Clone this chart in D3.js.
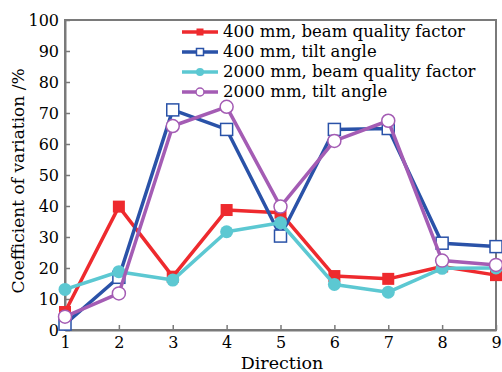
<!DOCTYPE html>
<html>
<head>
<meta charset="utf-8">
<script src="https://cdn.jsdelivr.net/npm/d3@7/dist/d3.min.js"></script>
<style>
  html, body { margin: 0; padding: 0; background: #fff; }
  svg text { font-family: "DejaVu Serif", "Liberation Serif", serif; fill: #000; }
</style>
</head>
<body>
<div id="chart"></div>
<script>
// Coefficient of variation by direction
const directions = [1, 2, 3, 4, 5, 6, 7, 8, 9];
const bq400 = [5.8, 39.8, 17.2, 38.7, 37.8, 17.4, 16.5, 20.5, 17.7];
const tilt400 = [1.9, 17, 71, 64.7, 30.3, 64.7, 65, 28, 26.9];
const bq2000 = [13.1, 18.8, 16.1, 31.7, 34.6, 14.7, 12.2, 19.9, 20];
const tilt2000 = [4.3, 11.8, 65.8, 72, 39.8, 61, 67.5, 22.4, 21];
const yTicks = [0, 10, 20, 30, 40, 50, 60, 70, 80, 90, 100];

const series = [
  { name: '400 mm, beam quality factor', values: bq400, color: '#ee2a2e', shape: 'square', filled: true },
  { name: '400 mm, tilt angle', values: tilt400, color: '#2a52a8', shape: 'square', filled: false },
  { name: '2000 mm, beam quality factor', values: bq2000, color: '#5cc8d2', shape: 'circle', filled: true },
  { name: '2000 mm, tilt angle', values: tilt2000, color: '#a45cb4', shape: 'circle', filled: false }
];

const width = 502, height = 372;
const x = d3.scaleLinear().domain([1, 9]).range([65, 496]);
const y = d3.scaleLinear().domain([0, 100]).range([330, 20]);

const svg = d3.select('#chart').append('svg')
  .attr('width', width)
  .attr('height', height);

// frame
svg.append('rect')
  .attr('x', x(1)).attr('y', y(100))
  .attr('width', x(9) - x(1)).attr('height', y(0) - y(100))
  .attr('fill', 'none')
  .attr('stroke', '#7a7a7a')
  .attr('stroke-width', 2);

// axes with inward ticks
const xAxis = d3.axisBottom(x).tickValues(directions).tickSizeInner(-5).tickSizeOuter(0).tickPadding(7);
const yAxis = d3.axisLeft(y).tickValues(yTicks).tickSizeInner(-5).tickSizeOuter(0).tickPadding(6);

const gx = svg.append('g').attr('transform', `translate(0,${y(0)})`).call(xAxis);
const gy = svg.append('g').attr('transform', `translate(${x(1)},0)`).call(yAxis);
[gx, gy].forEach(g => {
  g.select('.domain').attr('stroke', '#7a7a7a').attr('stroke-width', 2);
  g.selectAll('.tick line').attr('stroke', '#7a7a7a').attr('stroke-width', 1.5);
  g.selectAll('.tick text')
    .attr('font-family', '"DejaVu Serif", serif')
    .attr('font-size', 16)
    .attr('fill', '#000');
});

// axis titles
svg.append('text')
  .attr('x', 282).attr('y', 369)
  .attr('text-anchor', 'middle')
  .attr('font-size', 17.5)
  .text('Direction');

svg.append('text')
  .attr('transform', `translate(24,${(y(0) + y(100)) / 2 + 6}) rotate(-90)`)
  .attr('text-anchor', 'middle')
  .attr('font-size', 17)
  .text('Coefficient of variation /%');

// lines and markers
const line = d3.line().x((d, i) => x(directions[i])).y(d => y(d));

function drawMarker(g, s, cx, cy, size) {
  if (s.shape === 'square') {
    g.append('rect')
      .attr('x', cx - size / 2).attr('y', cy - size / 2)
      .attr('width', size).attr('height', size)
      .attr('fill', s.filled ? s.color : '#fff')
      .attr('stroke', s.color)
      .attr('stroke-width', s.filled ? 0 : 1.5);
  } else {
    g.append('circle')
      .attr('cx', cx).attr('cy', cy)
      .attr('r', size / 2)
      .attr('fill', s.filled ? s.color : '#fff')
      .attr('stroke', s.color)
      .attr('stroke-width', s.filled ? 0 : 1.5);
  }
}

series.forEach(s => {
  const g = svg.append('g');
  g.append('path')
    .attr('d', line(s.values))
    .attr('fill', 'none')
    .attr('stroke', s.color)
    .attr('stroke-width', 3.5)
    .attr('stroke-linejoin', 'round');
  s.values.forEach((v, i) => {
    drawMarker(g, s, x(directions[i]), y(v), s.shape === 'square' ? 12 : 13);
  });
});

// legend
const legend = svg.append('g');
series.forEach((s, i) => {
  const ly = 32 + i * 20;
  legend.append('line')
    .attr('x1', 182).attr('x2', 218)
    .attr('y1', ly).attr('y2', ly)
    .attr('stroke', s.color)
    .attr('stroke-width', 3.5);
  drawMarker(legend, s, 200, ly, s.shape === 'square' ? 7 : 8);
  legend.append('text')
    .attr('x', 223).attr('y', ly + 5)
    .attr('font-size', 16.5)
    .text(s.name);
});
</script>
</body>
</html>
